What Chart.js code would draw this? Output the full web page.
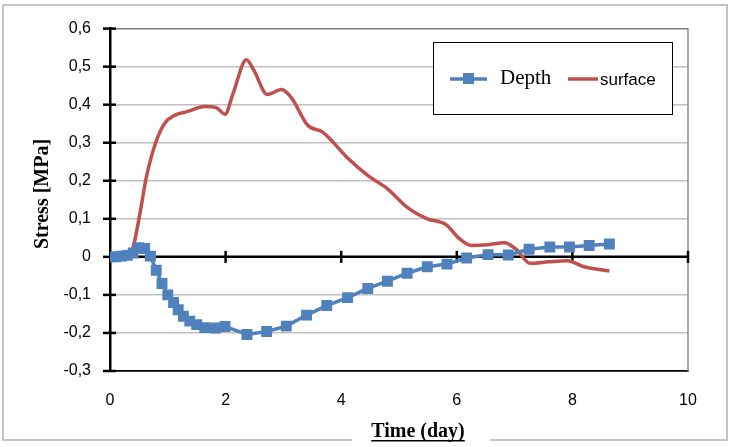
<!DOCTYPE html>
<html>
<head>
<meta charset="utf-8">
<script src="https://cdn.jsdelivr.net/npm/chart.js@4"></script>
<style>
  html, body { margin: 0; padding: 0; background: #fff; }
  canvas { display: block; }
</style>
</head>
<body>
<canvas id="grafico" width="731" height="447"></canvas>
<script>
// === Dados ===
const depthX = [0, 0.1, 0.2, 0.3, 0.4, 0.5, 0.6, 0.7, 0.8, 0.9, 1.0, 1.1, 1.18, 1.27, 1.38, 1.5, 1.64, 1.82, 1.99,
  2.37, 2.71, 3.05, 3.4, 3.75, 4.11, 4.46, 4.8, 5.14, 5.49, 5.83, 6.17, 6.54, 6.89, 7.25, 7.61, 7.95, 8.29, 8.64];
const depthY = [0, 0, 0.002, 0.004, 0.01, 0.024, 0.022, 0.002, -0.035, -0.07, -0.1, -0.12, -0.139, -0.156, -0.169, -0.178, -0.186, -0.187, -0.183,
  -0.204, -0.196, -0.182, -0.153, -0.128, -0.107, -0.083, -0.064, -0.043, -0.026, -0.019, -0.003, 0.006, 0.005, 0.02, 0.026, 0.026, 0.03, 0.034];

const surfX = [0, 0.27, 0.39, 0.51, 0.63, 0.79, 0.95, 1.12, 1.32, 1.64, 1.84, 1.99, 2.13, 2.36, 2.49, 2.72, 2.97, 3.14,
  3.42, 3.68, 4.11, 4.47, 4.8, 5.16, 5.49, 5.81, 6.05, 6.25, 6.54, 6.82, 7.02, 7.27, 7.59, 7.91, 8.2, 8.64];
const surfY = [-0.003, 0, 0.02, 0.107, 0.21, 0.3, 0.352, 0.372, 0.381, 0.395, 0.392, 0.375, 0.43, 0.518, 0.49, 0.427, 0.44, 0.418,
  0.346, 0.328, 0.26, 0.213, 0.179, 0.128, 0.1, 0.085, 0.047, 0.03, 0.032, 0.037, 0.021, -0.017, -0.013, -0.01, -0.026, -0.037];

const xTicks = [0, 2, 4, 6, 8, 10];
const yTicks = [-0.3, -0.2, -0.1, 0, 0.1, 0.2, 0.3, 0.4, 0.5, 0.6];

const AZUL = "#4F81BD";
const VERMELHO = "#C0504D";

function formatarTick(v) {
  const r = Math.round(v * 10) / 10;
  if (r === 0) return "0";
  return r.toFixed(1).replace(".", ",");
}

// === Decoração: eixos cruzados, legenda, títulos e moldura ===
const decoracao = {
  id: "decoracao",
  beforeDraw(chart) {
    const ctx = chart.ctx;
    ctx.save();
    ctx.fillStyle = "#fff";
    ctx.fillRect(0, 0, chart.width, chart.height);
    ctx.restore();
  },
  beforeDatasetsDraw(chart) {
    const ctx = chart.ctx;
    const { left, right, top, bottom } = chart.chartArea;
    const xs = chart.scales.x, ys = chart.scales.y;
    ctx.save();
    // borda direita
    ctx.strokeStyle = "#8C8C8C";
    ctx.lineWidth = 1.5;
    ctx.beginPath();
    ctx.moveTo(right, top);
    ctx.lineTo(right, bottom);
    ctx.stroke();
    // linha do zero
    const y0 = ys.getPixelForValue(0);
    ctx.strokeStyle = "#000";
    ctx.lineWidth = 2.5;
    ctx.beginPath();
    ctx.moveTo(left, y0);
    ctx.lineTo(right, y0);
    ctx.stroke();
    // marcas do eixo x no zero
    xTicks.forEach(v => {
      if (v === 0) return;
      const px = xs.getPixelForValue(v);
      ctx.beginPath();
      ctx.moveTo(px, y0 - 6);
      ctx.lineTo(px, y0 + 6);
      ctx.stroke();
    });
    // marcas do eixo y
    yTicks.forEach(v => {
      const py = ys.getPixelForValue(v);
      ctx.beginPath();
      ctx.moveTo(left - 7, py);
      ctx.lineTo(left + 6, py);
      ctx.stroke();
    });
    ctx.restore();
  },
  afterDraw(chart) {
    const ctx = chart.ctx;
    ctx.save();

    // legenda
    ctx.fillStyle = "#fff";
    ctx.fillRect(433, 42, 239, 72);
    ctx.strokeStyle = "#000";
    ctx.lineWidth = 1;
    ctx.strokeRect(433.5, 42.5, 239, 72);

    ctx.strokeStyle = AZUL;
    ctx.lineWidth = 3.5;
    ctx.beginPath();
    ctx.moveTo(450, 79);
    ctx.lineTo(487, 79);
    ctx.stroke();
    ctx.fillStyle = AZUL;
    ctx.fillRect(463, 73, 11, 11);

    ctx.fillStyle = "#000";
    ctx.textBaseline = "alphabetic";
    ctx.textAlign = "left";
    ctx.font = "21px 'Liberation Serif'";
    ctx.fillText("Depth", 500, 84);

    ctx.strokeStyle = VERMELHO;
    ctx.beginPath();
    ctx.moveTo(568, 79);
    ctx.lineTo(598, 79);
    ctx.stroke();
    ctx.fillStyle = "#000";
    ctx.font = "17px 'Liberation Sans'";
    ctx.fillText("surface", 600, 85);

    // moldura externa
    ctx.strokeStyle = "#C4C4C4";
    ctx.lineWidth = 2;
    ctx.beginPath();
    ctx.moveTo(352, 440);
    ctx.lineTo(3, 440);
    ctx.lineTo(3, 5);
    ctx.lineTo(727, 5);
    ctx.lineTo(727, 440);
    ctx.lineTo(490, 440);
    ctx.stroke();

    // título do eixo x (sublinhado)
    ctx.fillStyle = "#000";
    ctx.font = "bold 20px 'Liberation Serif'";
    ctx.textAlign = "center";
    const tx = 418;
    ctx.fillText("Time (day)", tx, 437);
    const w = ctx.measureText("Time (day)").width;
    ctx.fillRect(tx - w / 2, 440, w, 1.5);

    // título do eixo y
    ctx.translate(43, 194);
    ctx.rotate(-Math.PI / 2);
    ctx.textBaseline = "middle";
    ctx.fillText("Stress [MPa]", 0, 0);

    ctx.restore();
  }
};

// === Gráfico ===
const ctx = document.getElementById("grafico").getContext("2d");
new Chart(ctx, {
  type: "scatter",
  data: {
    datasets: [
      {
        label: "Depth",
        data: depthX.map((x, i) => ({ x, y: depthY[i] })),
        showLine: true,
        borderColor: AZUL,
        backgroundColor: AZUL,
        borderWidth: 3.5,
        pointStyle: "rect",
        pointRadius: 7.7,
        pointBorderWidth: 0,
        tension: 0,
        order: 1
      },
      {
        label: "surface",
        data: surfX.map((x, i) => ({ x, y: surfY[i] })),
        showLine: true,
        borderColor: VERMELHO,
        backgroundColor: VERMELHO,
        borderWidth: 3.5,
        pointRadius: 0,
        cubicInterpolationMode: "monotone",
        order: 2
      }
    ]
  },
  options: {
    responsive: false,
    animation: false,
    devicePixelRatio: 1,
    layout: { padding: { top: 21, right: 43, left: 0, bottom: 0 } },
    plugins: {
      legend: { display: false },
      tooltip: { enabled: false }
    },
    scales: {
      x: {
        type: "linear",
        min: 0,
        max: 10,
        afterFit: s => { s.height = 76; },
        afterBuildTicks: s => { s.ticks = xTicks.map(v => ({ value: v })); },
        grid: { display: false, drawTicks: false },
        border: { display: true, color: "#000", width: 1.5 },
        ticks: {
          padding: 20,
          color: "#000",
          font: { family: "'Liberation Sans'", size: 16 },
          callback: v => String(v)
        }
      },
      y: {
        min: -0.3,
        max: 0.6,
        afterFit: s => { s.width = 110; },
        afterBuildTicks: s => { s.ticks = yTicks.map(v => ({ value: v })); },
        grid: {
          drawTicks: false,
          color: c => {
            const v = Math.round(c.tick.value * 10) / 10;
            if (v === 0.6) return "#7F7F7F";
            if (v === -0.3) return "#000";
            return "#C0C0C0";
          },
          lineWidth: 1.5
        },
        border: { display: true, color: "#000", width: 2.5 },
        ticks: {
          padding: 19,
          color: "#000",
          font: { family: "'Liberation Sans'", size: 16 },
          callback: v => formatarTick(v)
        }
      }
    }
  },
  plugins: [decoracao]
});
</script>
</body>
</html>
